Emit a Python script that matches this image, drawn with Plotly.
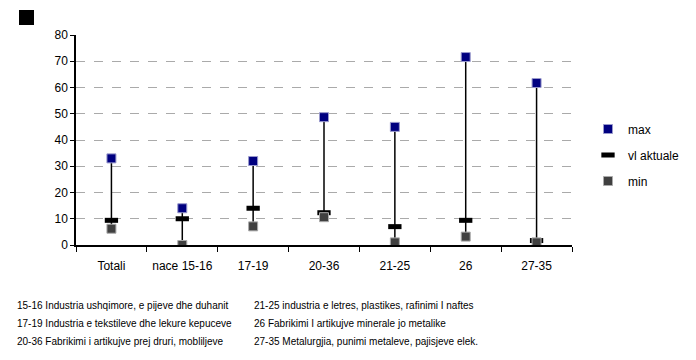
import plotly.graph_objects as go

categories = ["Totali", "nace 15-16", "17-19", "20-36", "21-25", "26", "27-35"]
max_vals = [33, 14, 32, 48.7, 45, 71.6, 61.7]
vl_aktuale = [9.4, 10, 14, 12.3, 7, 9.4, 1.7]
min_vals = [6.2, 0, 7.1, 10.6, 1, 3.2, 1]

notes_left = [
    "15-16 Industria ushqimore, e pijeve dhe duhanit",
    "17-19 Industria e tekstileve dhe lekure kepuceve",
    "20-36 Fabrikimi i artikujve prej druri, mobliljeve",
]
notes_right = [
    "21-25 industria e letres, plastikes, rafinimi I naftes",
    "26 Fabrikimi I artikujve minerale jo metalike",
    "27-35 Metalurgjia, punimi metaleve, pajisjeve elek.",
]

FONT = "Liberation Sans, Arial, sans-serif"

# plot area in figure pixels (page has an 8px body margin)
L, R, T, B = 68, 564, 27, 237
PW, PH = R - L, B - T


def px(x):
    return (x - L) / PW


def py(y):
    return (B - y) / PH


# high-low lines from min to max
hx, hy = [], []
for c, lo, hi in zip(categories, min_vals, max_vals):
    hx += [c, c, None]
    hy += [lo, hi, None]

fig = go.Figure()
fig.add_trace(go.Scatter(x=hx, y=hy, mode="lines", line=dict(color="black", width=1.5),
                         showlegend=False, hoverinfo="skip"))
fig.add_trace(go.Scatter(
    x=categories, y=max_vals, mode="markers", name="max", legendgroup="a",
    marker=dict(symbol="square", size=9, color="#000080", line=dict(color="#9999cc", width=1)),
))
fig.add_trace(go.Scatter(
    x=categories, y=vl_aktuale, mode="markers", name="vl aktuale", legendgroup="b",
    marker=dict(symbol="line-ew", size=9.5, color="black", line=dict(color="black", width=5)),
))
fig.add_trace(go.Scatter(
    x=categories, y=min_vals, mode="markers", name="min", legendgroup="c",
    marker=dict(symbol="square", size=9, color="#404040", line=dict(color="#aaaaaa", width=1)),
))

fig.update_xaxes(
    type="category", range=[-0.5, 6.5], tickson="boundaries", ticks="outside",
    ticklen=5, tickcolor="black", showline=True, linecolor="black", linewidth=1.5,
    showgrid=False, ticklabelstandoff=9,
    tickfont=dict(size=12, color="black", family=FONT),
)
fig.update_yaxes(
    range=[0, 80], dtick=10, ticks="outside", ticklen=4, tickcolor="black",
    showline=True, linecolor="black", linewidth=1.5, showgrid=True,
    gridcolor="#aaaaaa", griddash="dash", gridwidth=1, zeroline=False,
    tickfont=dict(size=12, color="black", family=FONT),
)

annotations = []
for i, t in enumerate(notes_left):
    annotations.append(dict(text=t, x=px(7), y=py(297 + i * 18)))
for i, t in enumerate(notes_right):
    annotations.append(dict(text=t, x=px(244), y=py(297 + i * 18)))
for a in annotations:
    a.update(xref="paper", yref="paper", showarrow=False, xanchor="left", yanchor="middle",
             font=dict(size=10, color="black", family=FONT))

fig.update_layout(
    width=696, height=360,
    margin=dict(l=L, r=696 - R, t=T, b=360 - B),
    paper_bgcolor="white", plot_bgcolor="white",
    font=dict(family=FONT, size=12, color="black"),
    showlegend=True,
    legend=dict(x=px(580), y=py(147), yanchor="middle", xanchor="left", traceorder="grouped",
                tracegroupgap=7, itemwidth=30, font=dict(size=12, family=FONT),
                bgcolor="rgba(0,0,0,0)"),
    annotations=annotations,
    shapes=[dict(type="rect", xref="paper", yref="paper",
                 x0=px(11), x1=px(26), y0=py(2), y1=py(17),
                 fillcolor="black", line=dict(width=0))],
)

fig.write_html("out.html")
